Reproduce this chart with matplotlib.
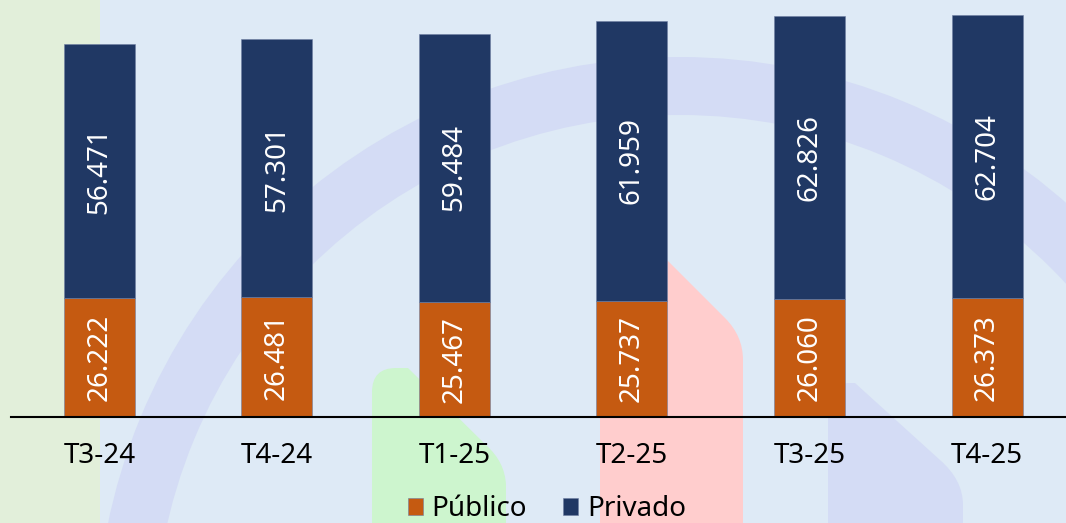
import matplotlib
matplotlib.use("Agg")
import matplotlib.pyplot as plt
import numpy as np
from matplotlib.path import Path
from matplotlib.patches import PathPatch, Wedge, Rectangle


quarters = ["T3-24", "T4-24", "T1-25", "T2-25", "T3-25", "T4-25"]
publico = [26.222, 26.481, 25.467, 25.737, 26.060, 26.373]
privado = [56.471, 57.301, 59.484, 61.959, 62.826, 62.704]

NAVY = "#203864"
ORANGE = "#C55A11"
BG_BLUE = "#DEEAF6"
LAVENDER = "#D4DCF5"

plt.rcParams["font.family"] = ["Noto Sans", "DejaVu Sans"]

W, H = 1066, 523
fig = plt.figure(figsize=(W / 100, H / 100), dpi=100)
fig.patch.set_facecolor(BG_BLUE)


def fmt(v):
    return f"{v:.3f}"


# decorative background, drawn in pixel coords
bg = fig.add_axes([0, 0, 1, 1], zorder=-1)
bg.set_xlim(0, W)
bg.set_ylim(H, 0)
bg.axis("off")

bg.add_patch(Rectangle((0, 0), 100, H, color="#E2EFDA", lw=0))
bg.add_patch(Wedge((680, 641), 584, 0, 360, width=58, color=LAVENDER, lw=0))


def tab_shape(points_codes, color):
    verts = [p for p, _ in points_codes]
    codes = [c for _, c in points_codes]
    bg.add_patch(PathPatch(Path(verts, codes), color=color, lw=0))


M, L, C = Path.MOVETO, Path.LINETO, Path.CURVE3
tab_shape([((372, 530), M), ((372, 392), L), ((372, 368), C), ((396, 368), C),
           ((408, 368), L), ((486, 445), L), ((505, 462), C), ((506, 485), C),
           ((506, 530), L), ((372, 530), Path.CLOSEPOLY)], "#CDF5CE")
tab_shape([((600, 530), M), ((600, 262), L), ((600, 238), C), ((624, 238), C),
           ((645, 238), L), ((725, 318), L), ((743, 336), C), ((743, 360), C),
           ((743, 530), L), ((600, 530), Path.CLOSEPOLY)], "#FFCDCD")
tab_shape([((828, 530), M), ((828, 405), L), ((828, 383), C), ((850, 383), C),
           ((855, 383), L), ((940, 460), L), ((963, 480), C), ((963, 505), C),
           ((963, 530), L), ((828, 530), Path.CLOSEPOLY)], LAVENDER)

# main chart
ax = fig.add_axes([10.7 / W, 106.3 / H, (W - 10.7) / W, 416.7 / H])
ax.set_facecolor("none")

x = np.arange(len(quarters))
width = 0.4
bars_pub = ax.bar(x, publico, width, color=ORANGE, label="Público",
                  edgecolor="#6f7fa3", linewidth=0.4, zorder=2)
bars_pri = ax.bar(x, privado, width, bottom=publico, color=NAVY, label="Privado",
                  edgecolor="#6f7fa3", linewidth=0.4, zorder=2)

for bars, vals, bottoms in [(bars_pub, publico, [0] * len(publico)),
                            (bars_pri, privado, publico)]:
    for bar, v, b in zip(bars, vals, bottoms):
        ax.text(bar.get_x() + bar.get_width() / 2, b + v / 2, fmt(v),
                rotation=90, ha="center", va="center", color="white",
                fontsize=20, zorder=3)

ax.set_xlim(-0.5, 5.445)
ax.set_ylim(0, 92.4)
ax.set_xticks(x)
ax.set_xticklabels(quarters, fontsize=20)
ax.tick_params(axis="x", length=0, pad=18)
ax.set_yticks([])
for side in ["top", "right", "left"]:
    ax.spines[side].set_visible(False)
ax.spines["bottom"].set_linewidth(1.5)
ax.spines["bottom"].set_color("black")
ax.spines["bottom"].set_zorder(4)

fig.legend(handles=[bars_pub, bars_pri], loc="center", ncol=2,
           bbox_to_anchor=(0.513, 0.026), frameon=False, fontsize=20,
           handlelength=0.55, handleheight=0.55, handletextpad=0.3,
           columnspacing=1.3, borderpad=0)

fig.savefig("out.png", dpi=100, facecolor=fig.get_facecolor())
